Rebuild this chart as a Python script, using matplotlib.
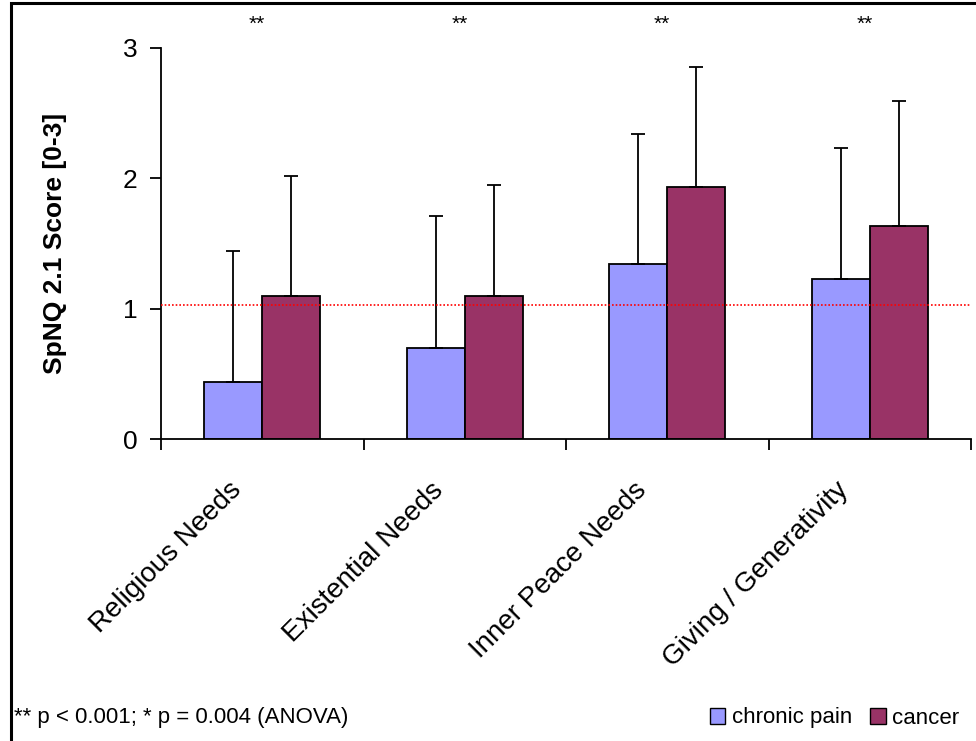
import matplotlib
matplotlib.use("Agg")
import matplotlib.pyplot as plt
import numpy as np
from matplotlib.patches import Rectangle, Patch
from matplotlib.transforms import blended_transform_factory

categories = ["Religious Needs", "Existential Needs", "Inner Peace Needs", "Giving / Generativity"]
chronic_pain = [0.44, 0.70, 1.34, 1.23]
chronic_pain_sd = [1.00, 1.01, 1.00, 1.00]
cancer = [1.10, 1.10, 1.93, 1.63]
cancer_sd = [0.92, 0.85, 0.92, 0.96]
significance = ["**", "**", "**", "**"]
reference_line = 1.03
yticks = [0, 1, 2, 3]

plt.rcParams['font.family'] = ['Liberation Sans', 'DejaVu Sans']

fig = plt.figure(figsize=(9.76, 7.41), dpi=100)
ax = fig.add_axes([161/976, 1-439/741, (971-161)/976, (439-47.7)/741])

x = np.arange(len(categories))
w = 0.286
ekw = dict(elinewidth=1.3, capsize=4.8, capthick=1.3, ecolor='black')
ax.bar(x - w/2, chronic_pain, w, color='#9999FF', edgecolor='black', linewidth=1.3,
       yerr=[np.zeros(4), chronic_pain_sd], error_kw=ekw, label='chronic pain', zorder=2)
ax.bar(x + w/2, cancer, w, color='#993366', edgecolor='black', linewidth=1.3,
       yerr=[np.zeros(4), cancer_sd], error_kw=ekw, label='cancer', zorder=2)

ax.axhline(reference_line, color='red', linestyle=(0, (1, 1.2)), linewidth=1.2, zorder=3)

ax.set_xlim(-0.5, len(categories) - 0.5)
ax.set_ylim(0, 3)
ax.set_yticks(yticks)
ax.set_yticklabels([str(t) for t in yticks], fontsize=19)
ax.set_xticks(np.arange(len(categories) + 1) - 0.5)
ax.set_xticklabels([])
ax.tick_params(axis='both', direction='out', length=8, width=1.3, colors='black')
ax.tick_params(axis='y', pad=9)
for s in ['top', 'right']:
    ax.spines[s].set_visible(False)
for s in ['left', 'bottom']:
    ax.spines[s].set_linewidth(1.3)
ax.spines['bottom'].set_bounds(-0.5, len(categories) - 0.5)

# category labels rotated
for i, c in enumerate(categories):
    ax.annotate(c, xy=(i, 0), xycoords='data', xytext=(-18, -34), textcoords='offset points',
                rotation=45, ha='right', va='center', rotation_mode='anchor', fontsize=20)

trans = blended_transform_factory(ax.transData, fig.transFigure)
for i, s in enumerate(significance):
    ax.text(i - 0.025, 1 - 24/741, s, transform=trans, ha='center', va='center', fontsize=15)

fig.text(55/976, 1 - 243/741, "SpNQ 2.1 Score [0-3]", rotation=90, ha='center', va='center',
         fontsize=19, fontweight='bold')

fig.text(14/976, 1 - 718/741, "** p < 0.001; * p = 0.004 (ANOVA)", ha='left', va='center',
         fontsize=16)

handles = [Patch(facecolor='#9999FF', edgecolor='black', linewidth=1.0),
           Patch(facecolor='#993366', edgecolor='black', linewidth=1.0)]
leg = fig.legend(handles, ['chronic pain', 'cancer'], loc='center right',
                 bbox_to_anchor=(975/976, 1 - 718/741), ncol=2, frameon=False,
                 handlelength=0.7, handleheight=0.7, handletextpad=0.3, columnspacing=0.8,
                 borderpad=0.2, prop={'size': 16})

fig.patches.append(Rectangle((11/976, -0.1), 1.2, 1 - 3/741 + 0.1, transform=fig.transFigure,
                             fill=False, edgecolor='black', linewidth=2.2))

fig.savefig("out.png", dpi=100)
